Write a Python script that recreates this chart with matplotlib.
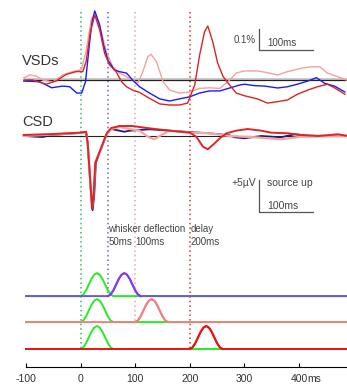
import numpy as np
import matplotlib
matplotlib.use("Agg")
import matplotlib.pyplot as plt

plt.rcParams['font.family'] = ['Liberation Sans', 'DejaVu Sans']

# ---- data ----
# VSD traces (% dF/F) for whisker deflection delays 50 / 100 / 200 ms
vsd_blue_t = [-104, -75, -53, -33, -20, -7, 2, 9, 16, 21, 26, 35, 42, 50, 62, 71, 84, 90, 95,
              108, 126, 145, 163, 181, 200, 218, 236, 255, 273, 291, 300, 319, 337, 361, 379,
              397, 416, 432, 447, 465, 484]
vsd_blue = [-0.005, -0.008, -0.037, -0.029, -0.032, -0.062, -0.062, -0.008, 0.167, 0.278, 0.329,
            0.262, 0.167, 0.095, 0.048, 0.040, 0.033, 0.016, 0.0, -0.032, -0.062, -0.090, -0.100,
            -0.090, -0.080, -0.062, -0.052, -0.052, -0.038, -0.024, -0.020, -0.027, -0.029,
            -0.038, -0.032, -0.020, -0.005, 0.011, -0.016, -0.029, -0.057]

vsd_pink_t = [-104, -93, -81, -69, -51, -33, -15, 1, 10, 20, 27, 38, 47, 59, 71, 84, 92, 105, 114,
              123, 129, 139, 151, 163, 181, 200, 218, 236, 255, 273, 285, 300, 324, 342, 361, 379,
              405, 423, 438, 452, 471, 487]
vsd_pink = [0.011, 0.024, 0.019, 0.0, -0.010, 0.024, 0.040, 0.048, 0.135, 0.295, 0.310, 0.230,
            0.135, 0.063, 0.033, 0.016, 0.005, -0.014, 0.040, 0.111, 0.122, 0.087, -0.008, -0.048,
            -0.062, -0.057, -0.040, -0.037, -0.040, 0.0, 0.033, 0.043, 0.043, 0.035, 0.024,
            0.040, 0.056, 0.063, 0.063, 0.033, 0.016, 0.0]

vsd_red_t = [-104, -88, -63, -45, -26, -8, 4, 10, 18, 26, 35, 44, 53, 65, 75, 84, 95, 108, 126,
             145, 163, 181, 196, 209, 218, 227, 233, 242, 251, 261, 273, 285, 300, 324, 342, 361,
             379, 397, 416, 434, 452, 465, 484]
vsd_red = [0.0, 0.0, -0.020, -0.005, 0.027, 0.040, 0.040, 0.087, 0.230, 0.310, 0.238, 0.127,
           0.071, 0.040, -0.008, -0.032, -0.048, -0.059, -0.087, -0.114, -0.119, -0.119, -0.110,
           -0.024, 0.119, 0.230, 0.257, 0.182, 0.081, 0.016, -0.024, -0.062, -0.075, -0.090,
           -0.110, -0.103, -0.095, -0.068, -0.048, -0.032, -0.020, -0.037, -0.068]

# CSD traces (uV, source up)
csd_navy_t = [-104, -70, -51, -2, 10, 13, 18, 22, 25, 28, 35, 41, 48, 56, 65, 80, 90, 126, 200,
              236, 273, 282, 300, 331, 367, 392, 416, 487]
csd_navy = [0.0, -0.16, 0.16, 0.47, 0.62, -1.25, -7.8, -11.6, -9.2, -4.2, -2.5, -1.25, 0.31,
            1.09, 0.94, 0.67, 0.83, 1.05, 0.62, 0.42, 0.11, -0.2, -0.36, 0.0, -0.2, 0.27, 0.05, 0.0]

csd_pink_t = [-104, -51, -2, 10, 13, 18, 21, 24, 27, 35, 41, 48, 56, 71, 90, 108, 123, 135, 148,
              163, 200, 236, 273, 319, 367, 404, 487]
csd_pink = [0.0, 0.23, 0.47, 0.62, -1.09, -7.6, -11.1, -8.75, -4.06, -2.5, -1.25, 0.31, 1.09,
            1.4, 1.09, 0.83, -0.11, -0.52, 0.16, 0.83, 0.52, 0.42, 0.0, -0.2, -0.52, -0.11, 0.0]

csd_red_t = [-104, -51, -2, 10, 13, 18, 21, 24, 27, 35, 41, 48, 56, 71, 95, 126, 163, 200, 212,
             224, 233, 242, 255, 267, 285, 306, 331, 349, 380, 404, 435, 471, 487]
csd_red = [0.16, 0.31, 0.52, 0.67, -1.09, -7.34, -11.4, -8.9, -4.2, -2.45, -1.09, 0.47, 1.25,
           1.56, 1.56, 1.20, 0.83, 0.52, -0.11, -1.67, -2.08, -1.41, -0.36, 0.42, 0.83, 1.09,
           0.83, 0.52, 0.42, 0.16, 0.0, 0.27, 0.05]

# stimulus protocol
delays = [50, 100, 200]
delay_labels = ['50ms', '100ms', '200ms']
pulse_t = [0, 5, 10, 15, 20, 25, 30, 35, 40, 45, 50, 55, 60]
pulse_shape = [0, 0.07, 0.25, 0.5, 0.75, 0.93, 1, 0.93, 0.75, 0.5, 0.25, 0.07, 0]
xticks = [-100, 0, 100, 200, 300, 400]
xtick_labels = ['-100', '0', '100', '200', '300', '400']

# ---- styling / layout ----
W, H = 347, 385
T_LEFT, T_RIGHT = -147.6, 487.9
delay_colors = ['#8833ff', '#f08080', '#ee1111']
base_colors = ['#6a55dd', '#f08080', '#ee1111']
dot_colors = ['#7766bb', '#f0a0a0', '#dd3333']
stim_green = '#22ee22'
row_offsets = [2.3, 1.17, 0.0]
row_px = [296, 322, 349]

fig = plt.figure(figsize=(W / 100, H / 100), dpi=100)


def px2t(x):
    return T_LEFT + x / W * (T_RIGHT - T_LEFT)


def panel(top, bottom, zero, ppu):
    ax = fig.add_axes([0, 1 - bottom / H, 1, (bottom - top) / H])
    ax.set_xlim(T_LEFT, T_RIGHT)
    ax.set_ylim((zero - bottom) / ppu, (zero - top) / ppu)
    ax.axis('off')
    return ax


# background layer: dotted stimulus lines and labels (y in pixels)
bg = fig.add_axes([0, 0, 1, 1])
bg.set_xlim(T_LEFT, T_RIGHT)
bg.set_ylim(H, 0)
bg.axis('off')
bg.vlines(0, 12, 349, colors='#33bb66', linestyles=(0, (1, 2)), lw=1.1)
for d, c, yb in zip(delays, dot_colors, row_px):
    bg.vlines(d, 12, yb, colors=c, linestyles=(0, (1, 2)), lw=1.1)

bg.text(px2t(22), 61, 'VSDs', fontsize=10.5, color='#333333', va='center')
bg.text(px2t(22), 122, 'CSD', fontsize=10.5, color='#333333', va='center')
bg.text(50, 229, 'whisker deflection', fontsize=7, color='#444444', va='center')
bg.text(201, 229, 'delay', fontsize=7, color='#444444', va='center')
for d, lab in zip(delays, delay_labels):
    bg.text(d + 1, 242, lab, fontsize=7, color='#444444', va='center')

bg.text(px2t(256), 40, '0.1%', fontsize=7, color='#444444', ha='right', va='center')
bg.text(px2t(267), 43, '100ms', fontsize=7, color='#444444', va='center')
bg.text(px2t(256), 183, '+5µV', fontsize=7.5, color='#444444', ha='right', va='center')
bg.text(px2t(267), 183, 'source up', fontsize=7.5, color='#444444', va='center')
bg.text(px2t(267), 206, '100ms', fontsize=7.5, color='#444444', va='center')
bg.text(px2t(307.5), 379, 'ms', fontsize=7.5, color='#333333', va='center')

# VSD panel: 0.1% = 21 px
vsd = panel(5, 110, 80, 210)
vsd.hlines(0.006, -104, 488, colors='#cccccc', lw=1.5)
vsd.hlines(0, -104, 488, colors='#222222', lw=0.9)
vsd.plot(vsd_pink_t, vsd_pink, color='#f4a0a0', lw=1.0)
vsd.plot(vsd_blue_t, vsd_blue, color='#1a1aff', lw=1.0)
vsd.plot(vsd_red_t, vsd_red, color='#dd2222', lw=1.0)
vsd.plot([326, 326, 426], [0.243, 0.143, 0.143], color='#555555', lw=0.9)

# CSD panel: 5 uV = 32 px
csd = panel(110, 225, 136, 6.4)
csd.hlines(0, -100, 488, colors='#222222', lw=0.8)
csd.plot(csd_navy_t, csd_navy, color='#1c1c7a', lw=1.3)
csd.plot(csd_pink_t, csd_pink, color='#f4a6a6', lw=1.6)
csd.plot(csd_red_t, csd_red, color='#e02525', lw=1.4)
csd.plot([326, 326, 426], [-6.875, -11.875, -11.875], color='#555555', lw=0.9)

# stimulus rows + time axis
st = fig.add_axes([0, 1 - 367 / H, 1, (367 - 230) / H])
st.set_xlim(T_LEFT, T_RIGHT)
st.set_ylim((349 - 367) / 23, (349 - 230) / 23)
st.patch.set_visible(False)
for s in ['top', 'left', 'right']:
    st.spines[s].set_visible(False)
st.spines['bottom'].set_bounds(-100, 488)
st.spines['bottom'].set_linewidth(0.8)
st.set_yticks([])
st.set_xticks(xticks)
st.set_xticklabels(xtick_labels)
st.tick_params(axis='x', direction='in', length=3, width=0.8, pad=5, labelsize=7.5,
               labelcolor='#333333')

for d, c, bc, off in zip(delays, delay_colors, base_colors, row_offsets):
    gx = [-100] + list(pulse_t) + [488]
    gy = [off] + [off + v for v in pulse_shape] + [off]
    st.plot(gx, gy, color=stim_green, lw=1.4)
    cx = [-100] + [d + p for p in pulse_t] + [488]
    st.plot(cx, gy, color=bc, lw=1.4)
    st.plot([d + p for p in pulse_t], [off + v for v in pulse_shape], color=c, lw=1.4)

fig.savefig('out.png', dpi=100)
